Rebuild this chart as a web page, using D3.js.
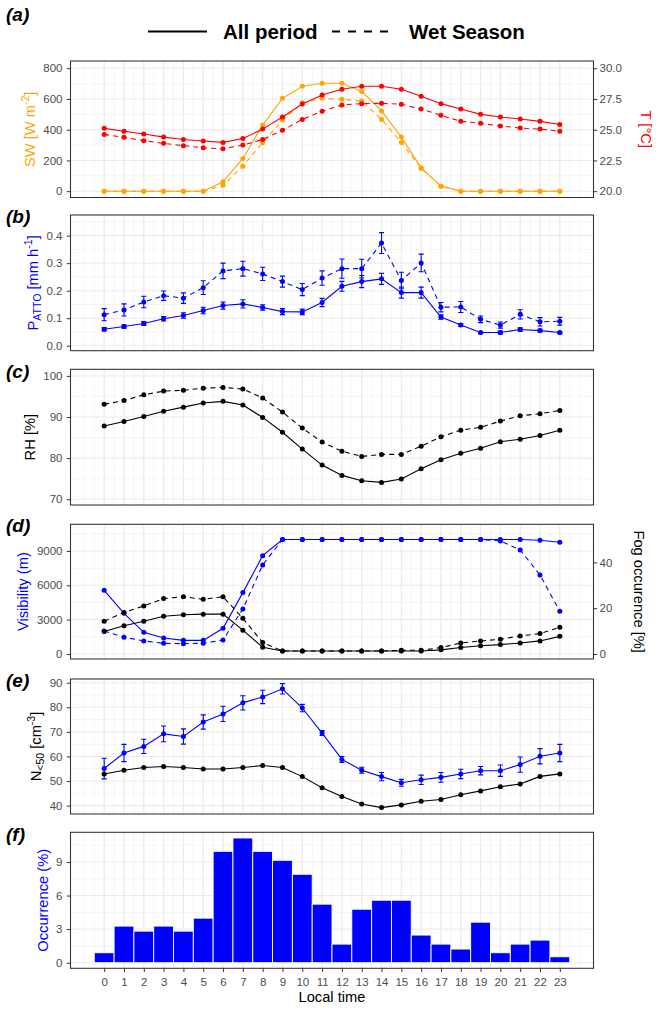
<!DOCTYPE html>
<html>
<head>
<meta charset="utf-8">
<script src="https://d3js.org/d3.v7.min.js"></script>
<style>
  body { margin: 0; background: #fff; }
  svg { display: block; font-family: "Liberation Sans", Arial, sans-serif; }
</style>
</head>
<body>
<div id="container"></div>
<script>
// values, one entry per local hour
const HOURS = [0, 1, 2, 3, 4, 5, 6, 7, 8, 9, 10, 11, 12, 13, 14, 15, 16, 17, 18, 19, 20, 21, 22, 23];

// (a) shortwave radiation [W m-2] and temperature [C]
const SW_ALL = [0, 0, 0, 0, 0, 0, 61, 213, 430, 604, 683, 702, 702, 648, 522, 352, 152, 33, 0, 0, 0, 0, 0, 0];
const SW_WET = [0, 0, 0, 0, 0, 0, 39, 163, 315, 463, 576, 604, 598, 587, 467, 317, 148, 33, 0, 0, 0, 0, 0, 0];
const T_ALL = [25.11, 24.87, 24.65, 24.40, 24.21, 24.08, 23.97, 24.29, 25.05, 26.03, 27.09, 27.83, 28.29, 28.53, 28.53, 28.29, 27.72, 27.12, 26.68, 26.25, 26.03, 25.87, 25.68, 25.43];
const T_WET = [24.62, 24.38, 24.10, 23.89, 23.70, 23.53, 23.45, 23.75, 24.21, 24.95, 25.84, 26.50, 27.01, 27.12, 27.15, 27.07, 26.68, 26.17, 25.68, 25.52, 25.30, 25.14, 25.05, 24.87];

// (b) precipitation at ATTO [mm h-1] with error bars
const P_ALL = [0.060, 0.070, 0.081, 0.098, 0.110, 0.128, 0.146, 0.152, 0.139, 0.124, 0.123, 0.157, 0.216, 0.233, 0.243, 0.193, 0.193, 0.104, 0.075, 0.048, 0.048, 0.059, 0.055, 0.048];
const P_ALL_ERR = [0.006, 0.006, 0.007, 0.008, 0.010, 0.012, 0.013, 0.015, 0.010, 0.011, 0.010, 0.015, 0.018, 0.022, 0.020, 0.020, 0.020, 0.008, 0.005, 0.004, 0.005, 0.006, 0.005, 0.004];
const P_WET = [0.113, 0.130, 0.159, 0.182, 0.173, 0.211, 0.272, 0.280, 0.261, 0.233, 0.204, 0.246, 0.280, 0.280, 0.373, 0.237, 0.301, 0.140, 0.141, 0.096, 0.075, 0.114, 0.087, 0.089];
const P_WET_ERR = [0.022, 0.022, 0.021, 0.017, 0.019, 0.025, 0.028, 0.027, 0.024, 0.020, 0.022, 0.026, 0.035, 0.034, 0.038, 0.030, 0.032, 0.017, 0.020, 0.012, 0.011, 0.017, 0.015, 0.014];

// (c) relative humidity [%]
const RH_ALL = [87.8, 88.9, 90.1, 91.4, 92.4, 93.4, 93.8, 92.9, 89.9, 86.3, 82.2, 78.3, 75.8, 74.5, 74.1, 74.9, 77.4, 79.6, 81.2, 82.4, 84.0, 84.6, 85.5, 86.8];
const RH_WET = [93.1, 94.0, 95.4, 96.3, 96.5, 97.0, 97.2, 96.8, 94.6, 91.2, 87.3, 83.9, 81.7, 80.4, 80.9, 80.9, 82.9, 85.2, 86.8, 87.5, 89.0, 90.3, 90.8, 91.6];

// (d) visibility [m] and fog occurrence [%]
const VIS_ALL = [5560, 3550, 1890, 1400, 1190, 1190, 2240, 5360, 8590, 10000, 10000, 10000, 10000, 10000, 10000, 10000, 10000, 10000, 10000, 10000, 10000, 10000, 9930, 9760];
const VIS_WET = [2010, 1460, 1140, 930, 900, 930, 1220, 3930, 7780, 10000, 10000, 10000, 10000, 10000, 10000, 10000, 10000, 10000, 10000, 10000, 9880, 9090, 6900, 3730];
const FOG_ALL = [9.8, 12.3, 14.3, 16.5, 17.1, 17.4, 17.4, 10.4, 2.9, 1.3, 1.3, 1.3, 1.3, 1.3, 1.3, 1.3, 1.3, 1.8, 2.8, 3.6, 4.1, 4.8, 5.7, 7.7];
const FOG_WET = [14.3, 18.1, 21.0, 24.2, 25.0, 23.9, 25.0, 15.6, 5.0, 1.3, 1.3, 1.3, 1.3, 1.3, 1.3, 1.6, 1.6, 2.8, 4.8, 5.7, 6.4, 7.9, 8.9, 11.7];

// (e) N<50 [cm-3]
const N50_BLUE = [55.1, 61.4, 64.1, 69.2, 68.1, 74.0, 77.3, 81.8, 84.2, 87.5, 79.7, 69.5, 58.8, 54.4, 51.8, 49.3, 50.5, 51.5, 52.9, 54.2, 54.2, 56.7, 60.1, 61.4];
const N50_BLUE_ERR = [4.2, 3.5, 2.9, 3.2, 3.1, 2.9, 3.1, 2.9, 2.7, 2.1, 1.5, 1.0, 1.2, 1.2, 1.7, 1.4, 1.9, 2.0, 1.9, 1.7, 2.3, 3.1, 3.1, 3.5];
const N50_BLACK = [52.9, 54.4, 55.5, 55.9, 55.5, 54.9, 54.9, 55.5, 56.3, 55.5, 51.8, 47.3, 43.7, 40.7, 39.2, 40.3, 41.8, 42.5, 44.4, 46.0, 47.7, 48.8, 51.9, 52.9];

// (f) occurrence [%]
const OCCURRENCE = [0.89, 3.27, 2.82, 3.27, 2.82, 3.98, 9.95, 11.14, 9.95, 9.15, 7.90, 5.23, 1.66, 4.78, 5.58, 5.58, 2.47, 1.66, 1.22, 3.62, 0.89, 1.66, 2.02, 0.53];

// tick labels
const SW_TICKS = [0, 200, 400, 600, 800];
const T_TICKS = [20, 22.5, 25, 27.5, 30];
const P_TICKS = [0, 0.1, 0.2, 0.3, 0.4];
const RH_TICKS = [70, 80, 90, 100];
const VIS_TICKS = [0, 3000, 6000, 9000];
const FOG_TICKS = [0, 20, 40];
const N50_TICKS = [40, 50, 60, 70, 80, 90];
const OCC_TICKS = [0, 3, 6, 9];

// layout
const WIDTH = 659;
const HEIGHT = 1009;
const LEFT = 70.5;
const RIGHT = 593.5;
const TICK = 3.7;
const GRID = "#ebebeb";
const DARK = "#333333";
const LABEL = "#4d4d4d";
const BLUE = "#0000ff";

const svg = d3.select("#container")
    .append("svg")
    .attr("width", WIDTH)
    .attr("height", HEIGHT);

const x = d3.scaleLinear()
    .domain([-1.7, 24.7])
    .range([LEFT, RIGHT]);

const styleAxis = (g) => {
    g.attr("font-family", null).attr("font-size", null);
    g.select(".domain").remove();
    g.selectAll(".tick line").attr("stroke", DARK).attr("stroke-width", 1);
    g.selectAll(".tick text").attr("fill", LABEL).style("font-size", "11.5px");
};

// one panel: background, grid, left axis, tag, border on top of the marks
const makePanel = (top, bottom, domain, ticks, fmt, tag, tagY) => {
    const y = d3.scaleLinear().domain(domain).range([bottom, top]);

    const grid = svg.append("g");
    grid.append("rect")
        .attr("x", LEFT).attr("y", top)
        .attr("width", RIGHT - LEFT).attr("height", bottom - top)
        .attr("fill", "#fff");

    const step = ticks[1] - ticks[0];
    const yMinor = d3.range(ticks[0] - step / 2, ticks[ticks.length - 1] + step, step)
        .filter(v => v > domain[0] && v < domain[1]);
    const xMinor = d3.range(-1, 24.01, 0.5);

    grid.selectAll(".yminor").data(yMinor).enter().append("line")
        .attr("x1", LEFT).attr("x2", RIGHT)
        .attr("y1", d => y(d)).attr("y2", d => y(d))
        .attr("stroke", GRID).attr("stroke-width", 0.55);
    grid.selectAll(".xminor").data(xMinor).enter().append("line")
        .attr("x1", d => x(d)).attr("x2", d => x(d))
        .attr("y1", top).attr("y2", bottom)
        .attr("stroke", GRID).attr("stroke-width", 0.55);
    grid.selectAll(".ymajor").data(ticks).enter().append("line")
        .attr("x1", LEFT).attr("x2", RIGHT)
        .attr("y1", d => y(d)).attr("y2", d => y(d))
        .attr("stroke", GRID).attr("stroke-width", 1.07);
    grid.selectAll(".xmajor").data(HOURS).enter().append("line")
        .attr("x1", d => x(d)).attr("x2", d => x(d))
        .attr("y1", top).attr("y2", bottom)
        .attr("stroke", GRID).attr("stroke-width", 1.07);

    const marks = svg.append("g");

    svg.append("rect")
        .attr("x", LEFT).attr("y", top)
        .attr("width", RIGHT - LEFT).attr("height", bottom - top)
        .attr("fill", "none").attr("stroke", DARK).attr("stroke-width", 1.07);

    const axisL = svg.append("g")
        .attr("transform", "translate(" + LEFT + ",0)")
        .call(d3.axisLeft(y).tickValues(ticks).tickFormat(fmt).tickSize(TICK).tickPadding(4.3));
    styleAxis(axisL);

    svg.append("text")
        .attr("x", 6).attr("y", tagY)
        .style("font-size", "19px").style("font-weight", "bold").style("font-style", "italic")
        .text(tag);

    return { y, marks, axisL, top, bottom };
};

// rotated axis title made of text pieces [text, size, dy]
const addTitle = (x0, y0, rot, color, parts) => {
    const t = svg.append("text")
        .attr("transform", "translate(" + x0 + "," + y0 + ") rotate(" + rot + ")")
        .attr("text-anchor", "middle")
        .attr("fill", color)
        .style("font-size", "14.7px");
    parts.forEach(([s, size, dy]) => {
        t.append("tspan").attr("dy", dy).style("font-size", size + "px").text(s);
    });
};

const leftTitle = (p, color, parts) => {
    const bb = p.axisL.node().getBBox();
    addTitle(LEFT + bb.x - 8.5, (p.top + p.bottom) / 2, -90, color, parts);
};

const rightAxis = (p, scale, ticks, fmt) => {
    const g = svg.append("g")
        .attr("transform", "translate(" + RIGHT + ",0)")
        .call(d3.axisRight(scale).tickValues(ticks).tickFormat(fmt).tickSize(TICK).tickPadding(2.3));
    styleAxis(g);
};

const drawSeries = (p, ys, vals, color, dashed, errs) => {
    const pts = HOURS.map((h, i) => [h, vals[i]]);
    const line = d3.line().x(d => x(d[0])).y(d => ys(d[1]));

    p.marks.append("path")
        .datum(pts)
        .attr("d", line)
        .attr("fill", "none")
        .attr("stroke", color)
        .attr("stroke-width", 1.1)
        .attr("stroke-dasharray", dashed ? "5,4" : null);

    if (errs) {
        const cap = 0.13;
        p.marks.append("g")
            .selectAll("path")
            .data(HOURS)
            .enter()
            .append("path")
            .attr("d", (h, i) => {
                const lo = ys(vals[i] - errs[i]);
                const hi = ys(vals[i] + errs[i]);
                return "M" + x(h - cap) + "," + hi + "H" + x(h + cap)
                    + "M" + x(h) + "," + hi + "V" + lo
                    + "M" + x(h - cap) + "," + lo + "H" + x(h + cap);
            })
            .attr("fill", "none")
            .attr("stroke", color)
            .attr("stroke-width", 1.1);
    }

    p.marks.append("g")
        .selectAll("circle")
        .data(pts)
        .enter()
        .append("circle")
        .attr("cx", d => x(d[0]))
        .attr("cy", d => ys(d[1]))
        .attr("r", 2.5)
        .attr("fill", color);
};

// legend
const legend = svg.append("g");
legend.append("line")
    .attr("x1", 148).attr("x2", 207).attr("y1", 31.5).attr("y2", 31.5)
    .attr("stroke", "#000").attr("stroke-width", 2.2);
legend.append("text")
    .attr("x", 223).attr("y", 38.6)
    .style("font-size", "20.5px").style("font-weight", "bold")
    .text("All period");
legend.append("line")
    .attr("x1", 332).attr("x2", 389).attr("y1", 31.5).attr("y2", 31.5)
    .attr("stroke", "#000").attr("stroke-width", 2.2).attr("stroke-dasharray", "8,8");
legend.append("text")
    .attr("x", 409).attr("y", 38.6)
    .style("font-size", "20.5px").style("font-weight", "bold")
    .text("Wet Season");

// (a)
const pa = makePanel(61, 197.5, [-41, 847], SW_TICKS, d3.format("d"), "(a)", 21);
const yT = d3.scaleLinear().domain(pa.y.domain().map(v => 20 + v / 80)).range(pa.y.range());
drawSeries(pa, pa.y, SW_ALL, "orange", false);
drawSeries(pa, pa.y, SW_WET, "orange", true);
drawSeries(pa, yT, T_ALL, "red", false);
drawSeries(pa, yT, T_WET, "red", true);
rightAxis(pa, yT, T_TICKS, d3.format(".1f"));
leftTitle(pa, "orange", [["SW [W m", 14.7, 0], ["-2", 10.5, -6], ["]", 14.7, 6]]);
addTitle(641, (pa.top + pa.bottom) / 2, 90, "red", [["T [°C]", 14.7, 0]]);

// (b)
const pb = makePanel(215, 350.7, [-0.018, 0.475], P_TICKS, d3.format(".1f"), "(b)", 223);
drawSeries(pb, pb.y, P_ALL, BLUE, false, P_ALL_ERR);
drawSeries(pb, pb.y, P_WET, BLUE, true, P_WET_ERR);
leftTitle(pb, BLUE, [["P", 14.7, 0], ["ATTO", 10.5, 3], [" [mm h", 14.7, -3], ["-1", 10.5, -6], ["]", 14.7, 6]]);

// (c)
const pc = makePanel(369.3, 505, [68.6, 101.6], RH_TICKS, d3.format("d"), "(c)", 377.5);
drawSeries(pc, pc.y, RH_ALL, "#000", false);
drawSeries(pc, pc.y, RH_WET, "#000", true);
leftTitle(pc, "#000", [["RH [%]", 14.7, 0]]);

// (d)
const pd = makePanel(524.3, 659, [-440, 11330], VIS_TICKS, d3.format("d"), "(d)", 532);
const yFog = d3.scaleLinear().domain(pd.y.domain().map(v => v / 200)).range(pd.y.range());
drawSeries(pd, pd.y, VIS_ALL, BLUE, false);
drawSeries(pd, pd.y, VIS_WET, BLUE, true);
drawSeries(pd, yFog, FOG_ALL, "#000", false);
drawSeries(pd, yFog, FOG_WET, "#000", true);
rightAxis(pd, yFog, FOG_TICKS, d3.format("d"));
leftTitle(pd, BLUE, [["Visibility (m)", 14.7, 0]]);
addTitle(634, (pd.top + pd.bottom) / 2, 90, "#000", [["Fog occurence [%]", 14.7, 0]]);

// (e)
const pe = makePanel(679, 814, [36.6, 91.5], N50_TICKS, d3.format("d"), "(e)", 687);
drawSeries(pe, pe.y, N50_BLUE, BLUE, false, N50_BLUE_ERR);
drawSeries(pe, pe.y, N50_BLACK, "#000", false);
leftTitle(pe, "#000", [["N", 14.7, 0], ["<50", 10.5, 3], [" [cm", 14.7, -3], ["-3", 10.5, -6], ["]", 14.7, 6]]);

// (f)
const pf = makePanel(832.3, 968.3, [-0.5, 11.65], OCC_TICKS, d3.format("d"), "(f)", 840.5);
pf.marks.selectAll("rect")
    .data(OCCURRENCE)
    .enter()
    // one bar per hour
    .append("rect")
    .attr("x", (d, i) => x(HOURS[i] - 0.5))
    .attr("width", x(1) - x(0))
    .attr("y", d => pf.y(d))
    .attr("height", d => pf.y(0) - pf.y(d))
    .attr("fill", BLUE)
    .attr("stroke", "#fff")
    .attr("stroke-width", 0.9);
leftTitle(pf, BLUE, [["Occurrence (%)", 14.7, 0]]);

const axisB = svg.append("g")
    .attr("transform", "translate(0," + pf.bottom + ")")
    .call(d3.axisBottom(x).tickValues(HOURS).tickFormat(d3.format("d")).tickSize(TICK).tickPadding(5.5));
styleAxis(axisB);

svg.append("text")
    .attr("x", (LEFT + RIGHT) / 2)
    .attr("y", 1002)
    .attr("text-anchor", "middle")
    .style("font-size", "14.7px")
    .text("Local time");
</script>
</body>
</html>
